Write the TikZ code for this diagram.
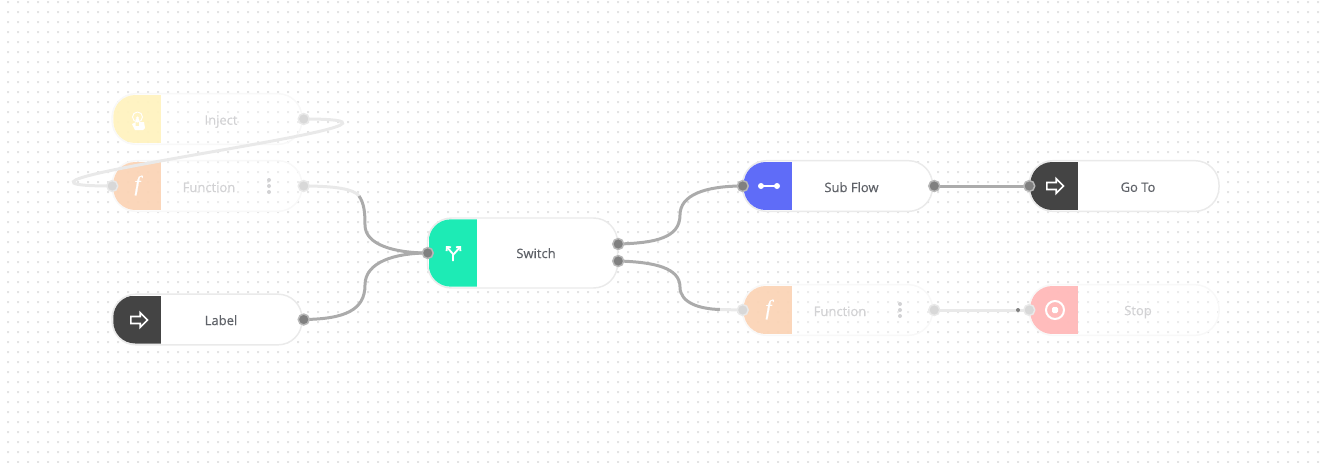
\documentclass[tikz,border=0pt]{standalone}
\usepackage{fontspec}
\setmainfont[RawFeature={embolden=0.35}]{Open Sans}
\newfontfamily\iconfont[RawFeature={embolden=0.8}]{Liberation Serif}
\usepackage{xcolor}
\usetikzlibrary{positioning}
\usetikzlibrary{backgrounds}
\usetikzlibrary{shapes.arrows}
\usetikzlibrary{arrows.meta}

\definecolor{griddot}{HTML}{E4E4E4}
\definecolor{edgeline}{HTML}{ABABAB}
\definecolor{edgefade}{HTML}{E9E9E9}
\definecolor{bodyline}{HTML}{EAEAEA}
\definecolor{bodyfade}{HTML}{F8F8F8}
\definecolor{txtdark}{HTML}{5F6268}
\definecolor{txtfade}{HTML}{D2D2D4}
\definecolor{portdark}{HTML}{808080}
\definecolor{portring}{HTML}{B8B8B8}
\definecolor{portfade}{HTML}{D8D8D8}
\definecolor{injectcol}{HTML}{FFF2BD}
\definecolor{functioncol}{HTML}{FBD2B3}
\definecolor{stopcol}{HTML}{FFB9B9}
\definecolor{switchcol}{HTML}{1DEBB5}
\definecolor{subflowcol}{HTML}{5F6CF8}
\definecolor{darkcol}{HTML}{444444}

\tikzset{
  flowbody/.style={draw=bodyline, fill=white, line width=1.1pt, rounded corners=18pt,
    minimum width=142.5pt, minimum height=38pt, inner sep=0pt},
  fadebody/.style={flowbody, draw=bodyfade, fill opacity=.3},
  flowhead/.style={anchor=west, rounded corners=16.5pt, inner sep=0pt,
    minimum width=72pt, minimum height=36pt, xshift=1.3pt,
    path picture={\fill[sharp corners, #1] (path picture bounding box.north west) rectangle
      ([xshift=36pt]path picture bounding box.south west);}},
  flowtext/.style={text=txtdark, font=\fontsize{9.75}{12}\selectfont},
  fadetext/.style={flowtext, text=txtfade},
  port/.style={circle, fill=portdark, draw=portring, line width=1.1pt, minimum size=8.2pt,
    inner sep=0pt, xshift=.75pt},
  fadeport/.style={port, fill=portfade, draw=edgefade},
  edge/.style={draw=edgeline, line width=2.25pt},
  fadeedge/.style={draw=edgefade, line width=2.25pt},
  goicon/.style={single arrow, draw=white, line width=1.2pt, inner sep=1.6pt, minimum width=11pt,
    minimum height=12.5pt, single arrow head extend=2.4pt},
  iconline/.style={draw=white, line width=1.4pt},
  iconf/.style={text=white, font=\iconfont\itshape\fontsize{16}{16}\selectfont},
  menudot/.style={circle, fill=txtfade, minimum size=3pt, inner sep=0pt}
}

\begin{document}
\begin{tikzpicture}[x=.75pt, y=-.75pt]
  \useasboundingbox (0,0) rectangle (1320,462);

  \begin{scope}[on background layer]
    % Fondo de puntos
    \fill[griddot] foreach \i in {0,...,131} { foreach \j in {0,...,46} {
      ({7+10*\i},{1+10*\j}) rectangle ++(2,2) } };

    % Cuerpos
    \node[fadebody] (inject) at (207,119) {};
    \node[fadebody] (function) at (207,186) {};
    \node[flowbody] (label) at (207,319.5) {};
    \node[flowbody, minimum height=52.5pt] (switch) at (522.5,253) {};
    \node[flowbody] (subflow) at (837.5,186) {};
    \node[flowbody] (goto) at (1124,186) {};
    \node[fadebody] (functionb) at (837.5,310) {};
    \node[fadebody] (stop) at (1124,310) {};

    % Cabeceras de color
    \node[flowhead={fill=injectcol, fill opacity=.9}] (injecthead) at (inject.west) {};
    \node[flowhead={fill=functioncol, fill opacity=.9}] (functionhead) at (function.west) {};
    \node[flowhead={fill=darkcol}] (labelhead) at (label.west) {};
    \node[flowhead={fill=switchcol}, minimum height=50.5pt] (switchhead) at (switch.west) {};
    \node[flowhead={fill=subflowcol}] (subflowhead) at (subflow.west) {};
    \node[flowhead={fill=darkcol}] (gotohead) at (goto.west) {};
    \node[flowhead={fill=functioncol, fill opacity=.9}] (functionbhead) at (functionb.west) {};
    \node[flowhead={fill=stopcol, fill opacity=.95}] (stophead) at (stop.west) {};

    % Textos
    \node[fadetext] (injecttxt) at (221,121.5) {Inject};
    \node[fadetext] (functiontxt) at (209,187.3) {Function};
    \node[flowtext] (labeltxt) at (221,320.2) {Label};
    \node[flowtext] (switchtxt) at (536,253.2) {Switch};
    \node[flowtext] (subflowtxt) at (851.5,187.2) {Sub Flow};
    \node[flowtext] (gototxt) at (1138,187.2) {Go To};
    \node[fadetext] (functionbtxt) at (840,311.3) {Function};
    \node[fadetext] (stoptxt) at (1138,312) {Stop};

    % Iconos
    \fill[white] (137.5,118) circle (1.6) (135.5,119) rectangle (139,126)
      (132,124) -- (136,122) -- (144,122) -- (145,128) -- (143,130) -- (135,130) -- cycle;
    \draw[white, line width=.7pt] (137.5,117) circle (5);
    \node[iconf] (functionicon) at (137.5,185.5) {f};
    \node[goicon] (labelicon) at (137.5,320) {};
    \draw[iconline, -{Straight Barb[length=2.2pt, width=4.4pt]}] (453,261) -- (453,254) -- (446,246);
    \draw[iconline, -{Straight Barb[length=2.2pt, width=4.4pt]}] (453,255) -- (461,246);
    \draw[iconline] (761,186) -- (777,186);
    \fill[white] (761,186) circle (3) (777,186) circle (3);
    \node[goicon] (gotoicon) at (1053.5,186) {};
    \node[iconf] (functionbicon) at (768.5,309.5) {f};
    \draw[white, line width=1.5pt] (1055,310) circle (9);
    \fill[white, rounded corners=1pt] (1052,307) rectangle (1058,313);

    % Menus
    \foreach \d in {-6,0,6} {
      \node[menudot] at (269,186+\d) {};
      \node[menudot] at (900,310+\d) {};
    }
  \end{scope}

  % Puertos
  \node[fadeport] (injectout) at (inject.east) {};
  \node[fadeport] (functionin) at (function.west) {};
  \node[fadeport] (functionout) at (function.east) {};
  \node[port] (labelout) at (label.east) {};
  \node[port] (switchin) at (switch.west) {};
  \node[port, xshift=-.75pt, yshift=6.75pt] (switchouta) at (switch.east) {};
  \node[port, xshift=-.75pt, yshift=-6pt] (switchoutb) at (switch.east) {};
  \node[port] (subflowin) at (subflow.west) {};
  \node[port] (subflowout) at (subflow.east) {};
  \node[port] (gotoin) at (goto.west) {};
  \node[fadeport] (functionbin) at (functionb.west) {};
  \node[fadeport] (functionbout) at (functionb.east) {};
  \node[fadeport] (stopin) at (stop.west) {};
  \node[circle, fill=portdark, minimum size=3pt, inner sep=0pt] (stoptip) at (1018,310) {};

  \coordinate (functionmid) at (359,196);
  \coordinate (functionbmid) at (720,309.5);

  % Conexiones
  \begin{scope}[on background layer]
    \draw[fadeedge] (injectout.center) .. controls (493,119) and (-77,186) .. (functionin.center);
    \draw[fadeedge] (functionout.center) .. controls (335,186) and (354,189) .. (functionmid);
    \draw[edge] (functionmid) .. controls (364,203) and (365,212) .. (365,225)
      .. controls (365,245) and (395,253) .. (switchin.center);
    \draw[edge] (labelout.center) .. controls (345,319) and (365,310) .. (365,285)
      .. controls (365,262) and (395,253) .. (switchin.center);
    \draw[edge] (switchouta.center) .. controls (655,243) and (680,238) .. (680,215)
      .. controls (680,195) and (705,186) .. (subflowin.center);
    \draw[edge] (switchoutb.center) .. controls (655,262) and (680,268) .. (680,287)
      .. controls (680,303) and (700,309) .. (functionbmid);
    \draw[fadeedge] (functionbmid) -- (functionbin.center);
    \draw[edge] (subflowout.center) -- (gotoin.center);
    \draw[fadeedge] (functionbout.center) -- (stopin.center);
  \end{scope}
\end{tikzpicture}
\end{document}
